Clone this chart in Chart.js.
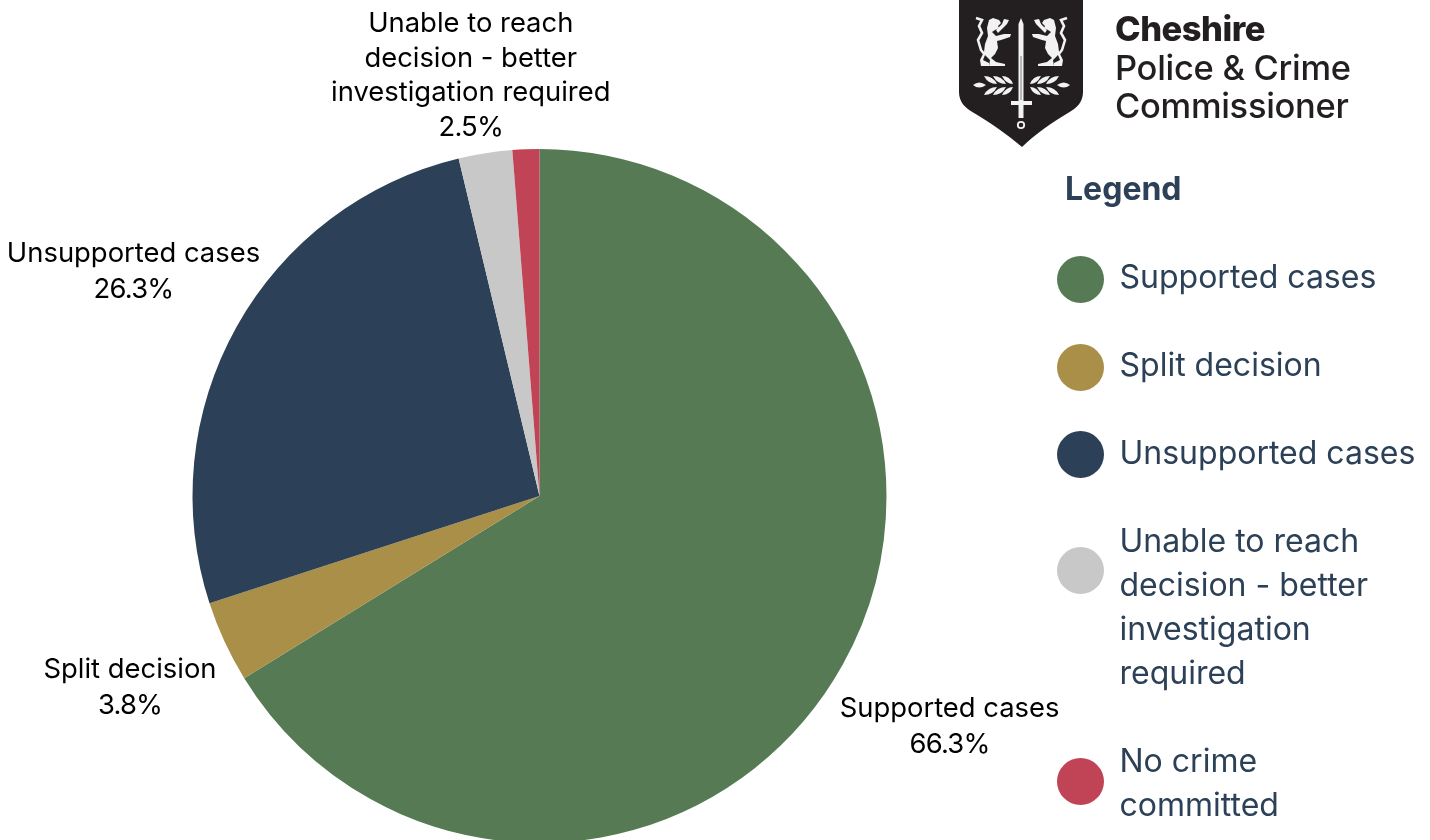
<!DOCTYPE html>
<html>
<head>
<meta charset="utf-8">
<script src="https://cdn.jsdelivr.net/npm/chart.js@4"></script>
<style>
  html, body { margin: 0; padding: 0; background: #fff; width: 1430px; height: 840px; overflow: hidden; }
  #stage { position: relative; width: 1430px; height: 840px; overflow: hidden; font-family: Inter, sans-serif; }
  #pie { position: absolute; left: 0; top: 0; }
  #logo { position: absolute; left: 955px; top: 0; }
  #brand { position: absolute; left: 1115px; top: 10px; color: #231f20; font-size: 34.5px; line-height: 38.5px; font-weight: 500; letter-spacing: -0.3px; filter: blur(0.6px); white-space: nowrap; }
  #brand b { font-weight: 800; letter-spacing: -0.5px; }
  #legendTitle { position: absolute; left: 1065px; top: 170px; font-size: 32px; line-height: 38px; font-weight: 700; color: #2c4157; }
  #legend { position: absolute; left: 0; top: 0; }
  .swatch { position: absolute; width: 47px; height: 47px; border-radius: 50%; left: 1057px; }
  .entry { position: absolute; left: 1119.5px; font-size: 32px; line-height: 44px; color: #2c4157; white-space: nowrap; }
</style>
</head>
<body>
<div id="stage">
  <canvas id="pie"></canvas>
  <svg id="logo" width="135" height="150" viewBox="0 0 135 150">
    <defs>
      <g id="crestBeast">
        <path d="M21 18 L27 20 L24 26 L27 33 L23 40 L26 50 L30 55" fill="none" stroke="#f2f2f2" stroke-width="2.6"/>
        <path fill="#f2f2f2" d="M34 20 L38 18 L44 20 L46 23 L43 26 L44 28 L40 30 L37 32 L41 36 L49 34 L56 34 L55 37 L46 40 L42 41 L43 48 L40 54 L36 58 L41 62 L50 64 L50 66 L34 66 L35 60 L30 55 L28 60 L34 63 L34 66 L26 66 L25 60 L29 52 L30 44 L33 36 L32 28 Z"/>
        <path fill="#f2f2f2" d="M41 30 L47 24 L49 19 L54 20 L52 24 L47 29 L43 33 Z"/>
        <path fill="#f2f2f2" d="M18 85 Q24 80 31 85 Q24 90 18 85 Z"/>
        <path fill="#f2f2f2" d="M29 76 Q38 76 42 84 Q33 84 29 76 Z M29 95 Q38 95 42 87 Q33 87 29 95 Z"/>
        <path fill="#f2f2f2" d="M38 76 Q47 76 51 84 Q42 84 38 76 Z M38 95 Q47 95 51 87 Q42 87 38 95 Z"/>
        <path fill="#f2f2f2" d="M47 76 Q55 76 58 84 Q51 84 47 76 Z M47 95 Q55 95 58 87 Q51 87 47 95 Z"/>
      </g>
    </defs>
    <g style="filter: blur(0.6px)">
      <path d="M4 0 H128 V92 C128 102 122 108 113 113 C98 122 80 134 67 147 C52 134 34 122 19 113 C10 108 4 102 4 92 Z" fill="#231f20"/>
      <!-- sword with its fuller, guard, grip and pommel -->
      <path d="M63.5 24 L66 18 L68.5 24 V101 H77 V105 H68.5 V118 H63.5 V105 H56 V101 H63.5 Z" fill="#f2f2f2"/>
      <rect x="65.4" y="56" width="1.3" height="44" fill="#9a9a9a"/>
      <circle cx="66" cy="125" r="3.2" fill="none" stroke="#f2f2f2" stroke-width="1.8"/>
      <use href="#crestBeast"/>
      <use href="#crestBeast" transform="translate(133 0) scale(-1 1)"/>
    </g>
  </svg>
  <div id="brand"><b>Cheshire</b><br>Police &amp; Crime<br>Commissioner</div>
  <div id="legendTitle">Legend</div>
  <div id="legend"></div>
</div>
<script>
const categories = ['Supported cases', 'Split decision', 'Unsupported cases', 'Unable to reach decision - better investigation required', 'No crime committed'];
const shares = [66.3, 3.8, 26.3, 2.5, 1.25];
const sliceColours = ['#567b54', '#a98f47', '#2c4157', '#c8c8c8', '#c04456'];

// Wrapped forms of the category names for the slice captions and the key
const captionLines = [['Supported cases'], ['Split decision'], ['Unsupported cases'], ['Unable to reach', 'decision - better', 'investigation required'], null];
const keyLines = [['Supported cases'], ['Split decision'], ['Unsupported cases'], ['Unable to reach', 'decision - better', 'investigation', 'required'], ['No crime', 'committed']];

// Caption placement around the pie: distance from centre, turn off the slice midline, line pitch
const captionRadius = [470.5, 452, 464, 426, 0];
const captionTurnDeg = [0.2, -0.2, -0.3, -0.3, 0];
const captionPitch = [36.8, 36, 36, 34.6, 0];
// Vertical centres of the key's text blocks and dots
const keyTextCentres = [277, 365, 453, 607, 783];
const keyDotCentres = [279.5, 367.5, 454.8, 570.3, 781.3];

const captionPlugin = {
  id: 'sliceCaptions',
  afterDatasetsDraw(chart) {
    const ctx = chart.ctx;
    const arcs = chart.getDatasetMeta(0).data;
    ctx.save();
    ctx.font = '27.4px Inter, sans-serif';
    ctx.fillStyle = '#000';
    ctx.textAlign = 'center';
    ctx.textBaseline = 'middle';
    arcs.forEach((arc, i) => {
      if (!captionLines[i]) return;
      const mid = (arc.startAngle + arc.endAngle) / 2 + captionTurnDeg[i] * Math.PI / 180;
      const cx = arc.x + Math.cos(mid) * captionRadius[i];
      const cy = arc.y + Math.sin(mid) * captionRadius[i];
      const lines = captionLines[i].concat(shares[i].toFixed(1) + '%');
      lines.forEach((line, k) => {
        // Percentages sit a little tighter than the names above them
        ctx.letterSpacing = k === lines.length - 1 ? '-0.8px' : '0px';
        ctx.fillText(line, cx, cy + (k - (lines.length - 1) / 2) * captionPitch[i]);
      });
    });
    ctx.restore();
  }
};

// The canvas runs past the bottom of the page because the pie is clipped there
const canvas = document.getElementById('pie');
canvas.style.width = '1430px';
canvas.style.height = '860px';
canvas.width = 1430;
canvas.height = 860;

new Chart(canvas, {
  type: 'pie',
  data: {
    labels: categories,
    datasets: [{ data: shares, backgroundColor: sliceColours, borderWidth: 0 }]
  },
  options: {
    responsive: false,
    animation: false,
    layout: { padding: { left: 192.5, right: 543.5, top: 149, bottom: 17 } },
    plugins: { legend: { display: false }, tooltip: { enabled: false } }
  },
  plugins: [captionPlugin]
});

// Key on the right, built from the same categories and colours
const key = document.getElementById('legend');
categories.forEach((name, i) => {
  const dot = document.createElement('div');
  dot.className = 'swatch';
  dot.style.background = sliceColours[i];
  dot.style.top = (keyDotCentres[i] - 23.5) + 'px';
  key.appendChild(dot);
  const text = document.createElement('div');
  text.className = 'entry';
  text.style.top = (keyTextCentres[i] - keyLines[i].length * 22) + 'px';
  text.innerHTML = keyLines[i].join('<br>');
  key.appendChild(text);
});
</script>
</body>
</html>
